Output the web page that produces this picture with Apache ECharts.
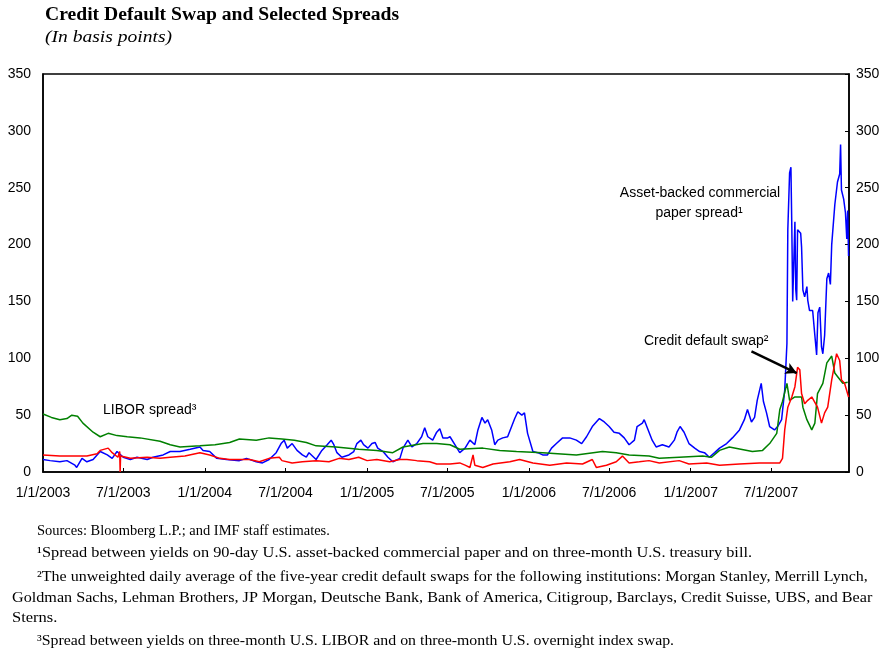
<!DOCTYPE html>
<html>
<head>
<meta charset="utf-8">
<script src="https://cdn.jsdelivr.net/npm/echarts@6/dist/echarts.min.js"></script>
<style>
html,body{margin:0;padding:0;background:#fff;}
#chart{width:884px;height:653px;}
</style>
</head>
<body>
<div id="chart"></div>
<script>
// ---- Data (basis points) ----
const abcpSpread = [
['2003-01-01',11],['2003-01-17',10],['2003-02-08',9],['2003-02-24',10],['2003-03-14',6],['2003-03-18',4],['2003-03-30',12],['2003-04-10',9],['2003-04-24',11],['2003-05-10',18],['2003-05-26',15],['2003-06-06',12],['2003-06-17',18],['2003-07-01',13],['2003-07-17',11],['2003-08-01',13],['2003-08-24',11],['2003-09-06',13],['2003-09-29',15],['2003-10-15',18],['2003-11-06',18],['2003-11-29',20],['2003-12-21',22],['2003-12-28',19],
['2004-01-12',18],['2004-01-28',12],['2004-02-19',11],['2004-03-19',10],['2004-04-04',12],['2004-04-26',9],['2004-05-10',8],['2004-05-25',11],['2004-06-10',17],['2004-06-21',25],['2004-06-28',28],['2004-07-05',21],['2004-07-16',25],['2004-07-27',19],['2004-08-08',15],['2004-08-17',13],['2004-08-23',17],['2004-09-08',11],['2004-09-21',19],['2004-10-03',24],['2004-10-12',28],['2004-10-18',24],['2004-10-25',17],['2004-11-05',13],['2004-11-21',15],['2004-12-02',18],['2004-12-09',25],['2004-12-18',28],['2004-12-24',24],
['2005-01-03',21],['2005-01-12',25],['2005-01-19',26],['2005-01-25',21],['2005-02-06',18],['2005-02-17',13],['2005-02-28',9],['2005-03-16',12],['2005-03-23',21],['2005-04-03',28],['2005-04-12',22],['2005-04-23',25],['2005-05-04',31],['2005-05-11',39],['2005-05-18',31],['2005-05-29',28],['2005-06-07',35],['2005-06-14',38],['2005-06-21',30],['2005-07-02',30],['2005-07-07',31],['2005-07-18',24],['2005-07-29',17],['2005-08-10',21],['2005-08-21',28],['2005-09-01',24],['2005-09-08',37],['2005-09-17',48],['2005-09-24',43],['2005-09-30',46],['2005-10-09',37],['2005-10-16',24],['2005-10-23',28],['2005-11-03',30],['2005-11-14',31],['2005-11-23',40],['2005-11-30',47],['2005-12-07',53],['2005-12-16',50],['2005-12-22',52],['2005-12-29',34],
['2006-01-10',18],['2006-01-21',17],['2006-02-01',15],['2006-02-12',15],['2006-02-21',21],['2006-03-04',25],['2006-03-18',30],['2006-04-03',30],['2006-04-18',28],['2006-04-30',25],['2006-05-11',31],['2006-05-24',40],['2006-06-09',47],['2006-06-20',44],['2006-07-01',40],['2006-07-12',35],['2006-07-24',34],['2006-08-04',30],['2006-08-15',24],['2006-08-27',28],['2006-09-02',40],['2006-09-14',43],['2006-09-18',46],['2006-09-25',39],['2006-10-06',28],['2006-10-15',22],['2006-10-29',24],['2006-11-13',22],['2006-11-25',28],['2006-12-01',35],['2006-12-08',40],['2006-12-17',35],['2006-12-28',25],
['2007-01-10',21],['2007-01-21',18],['2007-02-01',17],['2007-02-12',13],['2007-02-24',17],['2007-03-07',21],['2007-03-23',25],['2007-04-05',30],['2007-04-21',37],['2007-05-02',46],['2007-05-09',55],['2007-05-18',44],['2007-05-25',48],['2007-05-31',63],['2007-06-09',78],['2007-06-14',62],['2007-06-21',52],['2007-06-28',40],['2007-07-09',37],['2007-07-16',40],['2007-07-25',46],['2007-08-01',72],['2007-08-06',113],['2007-08-08',213],['2007-08-12',263],['2007-08-15',268],['2007-08-17',216],['2007-08-19',150],['2007-08-24',220],['2007-08-26',160],['2007-08-28',151],['2007-08-30',213],['2007-09-06',210],['2007-09-08',198],['2007-09-11',160],['2007-09-15',154],['2007-09-20',163],['2007-09-22',151],['2007-09-26',142],['2007-10-03',142],['2007-10-08',120],['2007-10-12',103],['2007-10-15',140],['2007-10-19',145],['2007-10-23',110],['2007-10-26',104],['2007-10-30',120],['2007-11-04',170],['2007-11-08',175],['2007-11-12',165],['2007-11-15',200],['2007-11-22',235],['2007-11-28',255],['2007-12-03',262],['2007-12-05',288],['2007-12-07',248],['2007-12-12',240],['2007-12-16',228],['2007-12-19',205],['2007-12-21',230],['2007-12-23',190]
];

const liborSpread = [
['2003-01-01',51],['2003-01-20',48],['2003-02-08',46],['2003-02-24',47],['2003-03-07',50],['2003-03-20',49],['2003-04-01',43],['2003-04-24',35],['2003-05-10',31],['2003-05-28',34],['2003-06-17',32],['2003-07-10',31],['2003-08-08',30],['2003-09-22',27],['2003-10-15',24],['2003-11-06',22],['2003-12-21',23],
['2004-01-24',24],['2004-02-26',26],['2004-03-19',29],['2004-04-26',28],['2004-05-25',30],['2004-06-23',29],['2004-07-21',28],['2004-08-17',26],['2004-09-08',23],['2004-10-23',22],['2004-12-13',20],
['2005-01-23',19],['2005-02-28',17],['2005-03-23',22],['2005-05-07',25],['2005-06-07',25],['2005-07-07',24],['2005-07-29',20],['2005-09-19',21],['2005-10-27',19],['2005-12-04',18],
['2006-02-01',17],['2006-04-18',15],['2006-06-16',18],['2006-07-17',17],['2006-08-15',15],['2006-09-29',14],['2006-10-22',12],['2006-12-06',13],
['2007-01-28',14],['2007-02-17',13],['2007-03-07',19],['2007-03-29',22],['2007-05-20',18],['2007-06-12',19],['2007-06-28',25],['2007-07-14',34],['2007-07-21',55],['2007-07-27',62],['2007-08-06',78],['2007-08-12',63],['2007-08-24',66],['2007-09-08',66],['2007-09-11',57],['2007-09-20',46],['2007-10-01',37],['2007-10-08',43],['2007-10-14',69],['2007-10-26',78],['2007-11-04',96],['2007-11-15',102],['2007-11-22',87],['2007-11-28',84],['2007-12-10',78],['2007-12-21',79]
];

const cdsSpread = [
['2003-01-01',15],['2003-02-08',14],['2003-03-07',14],['2003-04-10',14],['2003-05-03',16],['2003-05-10',19],['2003-05-28',21],['2003-06-06',17],['2003-06-19',13],['2003-06-23',18],['2003-06-24',0],['2003-06-25',14],['2003-07-17',12],['2003-08-24',13],['2003-09-22',12],['2003-10-15',13],['2003-11-17',14],['2003-12-21',17],
['2004-01-12',15],['2004-02-04',12],['2004-02-26',11],['2004-04-11',11],['2004-05-03',9],['2004-05-25',12],['2004-06-17',13],['2004-06-23',10],['2004-07-16',8],['2004-08-08',9],['2004-09-08',10],['2004-10-07',9],['2004-10-30',12],['2004-11-21',11],['2004-12-13',13],
['2005-01-01',10],['2005-01-23',11],['2005-02-21',9],['2005-03-16',11],['2005-04-01',11],['2005-04-23',10],['2005-05-22',9],['2005-06-07',7],['2005-07-07',7],['2005-07-29',8],['2005-08-10',6],['2005-08-21',4],['2005-08-28',15],['2005-09-01',6],['2005-09-19',4],['2005-10-12',7],['2005-11-19',9],['2005-12-11',11],
['2006-01-10',8],['2006-02-17',6],['2006-03-27',8],['2006-05-02',7],['2006-05-24',11],['2006-06-02',4],['2006-06-25',6],['2006-07-17',9],['2006-07-31',14],['2006-08-15',8],['2006-09-07',9],['2006-09-29',10],['2006-10-22',8],['2006-12-06',10],['2006-12-28',7],
['2007-02-06',8],['2007-03-07',6],['2007-04-21',7],['2007-06-05',8],['2007-07-05',8],['2007-07-21',8],['2007-07-27',12],['2007-08-01',37],['2007-08-08',57],['2007-08-17',66],['2007-08-24',75],['2007-08-30',92],['2007-09-04',90],['2007-09-08',69],['2007-09-15',60],['2007-09-22',63],['2007-10-01',66],['2007-10-14',57],['2007-10-23',43],['2007-10-30',52],['2007-11-06',57],['2007-11-15',81],['2007-11-26',104],['2007-12-03',98],['2007-12-07',81],['2007-12-14',78],['2007-12-23',66]
];

const yTicks = [0, 50, 100, 150, 200, 250, 300, 350];
const xStart = '2003-01-01';
const xEnd = '2007-12-24';
const arrowFrom = ['2007-05-18', 106];
const arrowTo = ['2007-08-28', 87];

const titleText = 'Credit Default Swap and Selected Spreads';
const subtitleText = '(In basis points)';
const footnotes = [
  'Sources: Bloomberg L.P.; and IMF staff estimates.',
  '\u00b9Spread between yields on 90-day U.S. asset-backed commercial paper and on three-month U.S. treasury bill.',
  '\u00b2The unweighted daily average of the five-year credit default swaps for the following institutions: Morgan Stanley, Merrill Lynch,',
  'Goldman Sachs, Lehman Brothers, JP Morgan, Deutsche Bank, Bank of America, Citigroup, Barclays, Credit Suisse, UBS, and Bear',
  'Sterns.',
  '\u00b3Spread between yields on three-month U.S. LIBOR and on three-month U.S. overnight index swap.'
];

// ---- Chart ----
const t = s => echarts.time.parse(s).getTime();
const toData = arr => arr.map(d => [t(d[0]), d[1]]);
const sans = 'Liberation Sans, Arial, sans-serif';
const serif = 'Liberation Serif, Times New Roman, serif';
const DAY = 86400000;

const footX = [37, 37, 37, 12, 12, 37];
const footY = [531, 553, 577, 598, 618, 641];
const footScale = [0.966, 1.088, 1.066, 1.077, 1.1, 1.057];
const footGraphics = footnotes.map((txt, i) => ({
  type: 'text', x: footX[i], y: footY[i], scaleX: footScale[i],
  style: {text: txt, font: '15px ' + serif, fill: '#000', verticalAlign: 'middle'}
}));

const chart = echarts.init(document.getElementById('chart'), null, {renderer: 'canvas'});
const yAxisBase = {
  type: 'value', min: yTicks[0], max: yTicks[yTicks.length - 1], interval: 50,
  splitLine: {show: false},
  axisLine: {show: true, lineStyle: {color: '#000', width: 1.5}},
  axisLabel: {color: '#000', fontFamily: sans, fontSize: 14}
};
chart.setOption({
  animation: false,
  backgroundColor: '#fff',
  grid: {left: 43, right: 35, top: 74, bottom: 181, show: true, borderColor: '#000', borderWidth: 1.5, backgroundColor: 'transparent'},
  xAxis: {
    type: 'time', min: t(xStart), max: t(xEnd),
    splitNumber: 10, minInterval: 180 * DAY, maxInterval: 186 * DAY,
    splitLine: {show: false},
    axisLine: {lineStyle: {color: '#000', width: 1.5}},
    axisTick: {show: true, inside: true, length: 4, lineStyle: {color: '#000'}},
    axisLabel: {
      color: '#000', fontFamily: sans, fontSize: 14, margin: 14, hideOverlap: false,
      formatter: function (v) {
        const d = new Date(v);
        if (d.getDate() !== 1 || (d.getMonth() !== 0 && d.getMonth() !== 6)) return '';
        return (d.getMonth() + 1) + '/1/' + d.getFullYear();
      }
    }
  },
  yAxis: [
    Object.assign({}, yAxisBase, {position: 'left', axisTick: {show: false}, axisLabel: Object.assign({}, yAxisBase.axisLabel, {margin: 12})}),
    Object.assign({}, yAxisBase, {position: 'right', axisTick: {show: true, inside: true, length: 4, lineStyle: {color: '#000'}}, axisLabel: Object.assign({}, yAxisBase.axisLabel, {margin: 7})})
  ],
  series: [
    {name: 'Asset-backed commercial paper spread', type: 'line', data: toData(abcpSpread), showSymbol: false, symbol: 'none', lineStyle: {color: '#0000ff', width: 1.5}, z: 2},
    {name: 'LIBOR spread', type: 'line', data: toData(liborSpread), showSymbol: false, symbol: 'none', lineStyle: {color: '#008000', width: 1.5}, z: 3},
    {name: 'Credit default swap', type: 'line', data: toData(cdsSpread), showSymbol: false, symbol: 'none', lineStyle: {color: '#ff0000', width: 1.5}, z: 4,
      markLine: {
        silent: true, symbol: ['none', 'arrow'], symbolSize: [9, 11], animation: false,
        lineStyle: {color: '#000', width: 2.5, type: 'solid'}, label: {show: false},
        emphasis: {disabled: true},
        data: [[{coord: [t(arrowFrom[0]), arrowFrom[1]]}, {coord: [t(arrowTo[0]), arrowTo[1]]}]]
      }
    }
  ],
  graphic: [
    {type: 'text', x: 45, y: 6, scaleX: 1.09, style: {text: titleText, font: 'bold 18px ' + serif, fill: '#000', verticalAlign: 'top'}},
    {type: 'text', x: 45, y: 29, scaleX: 1.15, style: {text: subtitleText, font: 'italic 17px ' + serif, fill: '#000', verticalAlign: 'top'}},
    {type: 'text', x: 700, y: 193, style: {text: 'Asset-backed commercial', font: '14px ' + sans, fill: '#000', align: 'center', verticalAlign: 'middle'}},
    {type: 'text', x: 699, y: 213, style: {text: 'paper spread\u00b9', font: '14px ' + sans, fill: '#000', align: 'center', verticalAlign: 'middle'}},
    {type: 'text', x: 644, y: 341, style: {text: 'Credit default swap\u00b2', font: '14px ' + sans, fill: '#000', align: 'left', verticalAlign: 'middle'}},
    {type: 'text', x: 103, y: 410, style: {text: 'LIBOR spread\u00b3', font: '14px ' + sans, fill: '#000', align: 'left', verticalAlign: 'middle'}}
  ].concat(footGraphics)
});
</script>
</body>
</html>
